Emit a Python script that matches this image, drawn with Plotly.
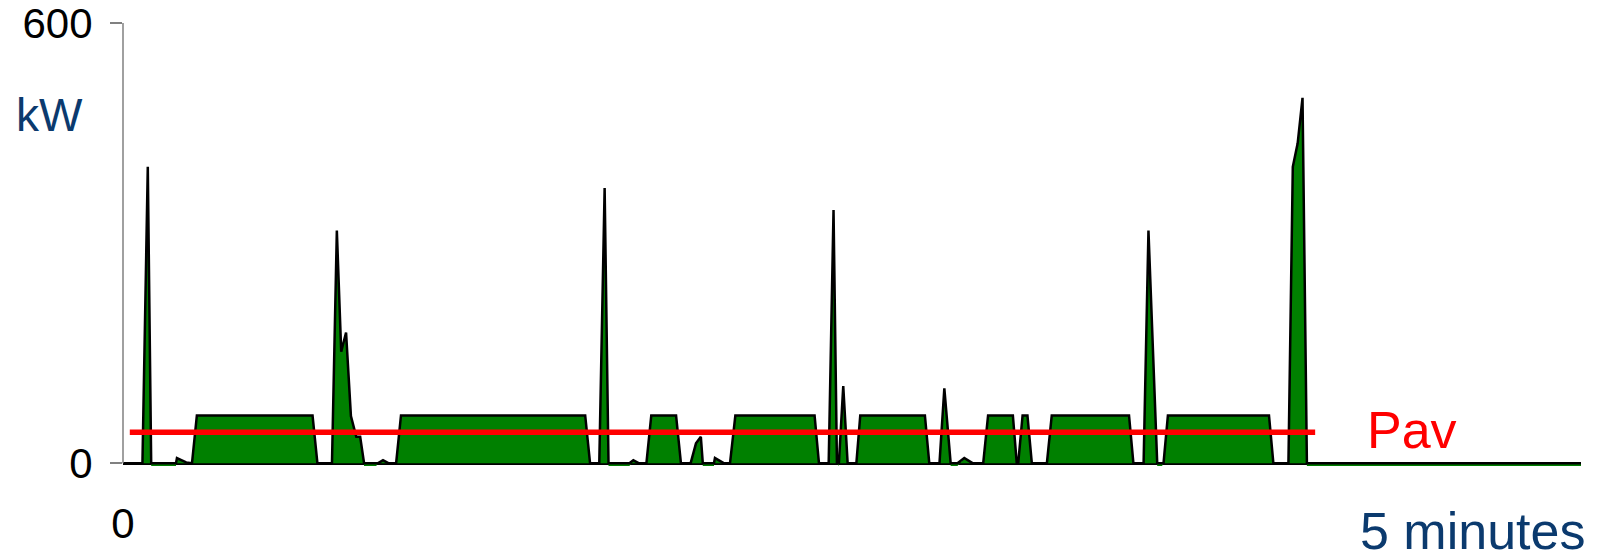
import numpy as np
import plotly.graph_objects as go

# ---- data (time in seconds over a 5-minute window, power in kW) ----
time_s = [0, 4.0, 5.1, 5.8, 10.9, 11.1, 13.0, 14.2, 15.2, 39.0, 40.0,
          43.0, 44.0, 44.9, 45.9, 46.9, 48.0, 48.8, 49.6, 52.1, 52.5, 53.5, 54.6,
          56.2, 57.2, 95.1, 96.1,
          98.0, 99.1, 99.9, 104.2, 105.0, 106.1,
          107.7, 108.7, 113.8, 114.8,
          116.8, 117.9, 118.9, 119.3, 121.6, 121.8, 123.6,
          124.9, 126.0, 142.3, 143.2,
          145.2, 146.2, 146.9, 147.3, 148.2, 149.1,
          150.9, 151.7, 165.0, 165.9,
          168.0, 169.0, 170.3, 171.7, 173.1, 174.8,
          177.0, 178.0, 183.1, 183.9,
          184.2, 185.1, 186.1, 187.0,
          190.1, 191.1, 207.0, 207.9,
          210.0, 211.0, 212.8, 213.8, 214.1, 215.0, 235.8, 236.7,
          239.8, 240.7, 241.7, 242.7, 243.6, 300.0]
power_kw = [0, 0, 404, -4, -4, 7, 1, 0, 65, 65, 0,
            0, 317, 152, 178, 64, 36, 36, -4, -4, 0, 4, 0,
            0, 65, 65, 0,
            0, 375, -4, -4, 4, 0,
            0, 65, 65, 0,
            0, 27, 36, -4, -4, 7, 0,
            0, 65, 65, 0,
            0, 345, 0, -4, 105, 0,
            0, 65, 65, 0,
            0, 102, -4, -4, 7, 0,
            0, 65, 65, 0,
            0, 65, 65, 0,
            0, 65, 65, 0,
            0, 317, -4, -4, 0, 65, 65, 0,
            0, 404, 436, 498, -4, -4]

pav_kw = 42
pav_span_s = [1.4, 245.3]

y_ticks = [0, 600]
y_ticktext = ["0", "600"]
x_ticks = [0]
x_ticktext = ["0"]

FONT = "Liberation Sans, Arial, sans-serif"
NAVY = "#0B3A6E"

fig = go.Figure()

# green area fill (no outline)
fig.add_trace(go.Scatter(
    x=time_s, y=power_kw, mode="lines", fill="tozeroy",
    fillcolor="#008000", line=dict(width=0, color="#008000"),
    hoverinfo="skip", showlegend=False))

# black outline of the positive part
fig.add_trace(go.Scatter(
    x=time_s, y=np.maximum(np.array(power_kw), 0), mode="lines",
    line=dict(width=2.5, color="black"),
    hoverinfo="skip", showlegend=False))

# average power line
fig.add_trace(go.Scatter(
    x=pav_span_s, y=[pav_kw, pav_kw], mode="lines",
    line=dict(width=5.5, color="#FF0000"),
    hoverinfo="skip", showlegend=False))

fig.update_layout(
    width=1605, height=556,
    margin=dict(l=123, r=24, t=23, b=87),
    paper_bgcolor="white", plot_bgcolor="white",
    showlegend=False,
    font=dict(family=FONT, color="black"),
    xaxis=dict(range=[0, 300], tickvals=x_ticks, ticktext=x_ticktext,
               ticks="", showgrid=False, zeroline=False, showline=False,
               automargin=False, ticklabeloverflow="allow",
               tickfont=dict(size=42, color="black", family=FONT),
               ticklabelstandoff=26),
    yaxis=dict(range=[-8, 600], tickvals=y_ticks, ticktext=y_ticktext,
               ticks="outside", ticklen=12, tickwidth=1.5, tickcolor="#808080",
               showgrid=False, showline=False,
               automargin=False, ticklabeloverflow="allow",
               zeroline=True, zerolinecolor="black", zerolinewidth=2.5,
               tickfont=dict(size=42, color="black", family=FONT),
               ticklabelstandoff=9),
    shapes=[dict(type="line", xref="paper", x0=0, x1=0, yref="y", y0=0, y1=600,
                 line=dict(color="#808080", width=1.5), layer="above")],
    annotations=[
        dict(text="kW", xref="paper", yref="paper", x=0, y=1,
             xanchor="center", yanchor="middle", xshift=-74, yshift=-92,
             showarrow=False, font=dict(size=46, color=NAVY, family=FONT)),
        dict(text="5 minutes", xref="paper", yref="paper", x=1, y=0,
             xanchor="right", yanchor="middle", xshift=5, yshift=-62,
             borderpad=0,
             showarrow=False, font=dict(size=52, color=NAVY, family=FONT)),
        dict(text="Pav", xref="x", yref="y", x=265.3, y=pav_kw,
             xanchor="center", yanchor="middle", yshift=2,
             showarrow=False, font=dict(size=52, color="#FF0000", family=FONT)),
    ],
)

# remove the browser's default 8px body margin so the figure fills the window
fig.write_html("out.html", config={"displayModeBar": False},
               post_script="document.body.style.margin='0px';")
